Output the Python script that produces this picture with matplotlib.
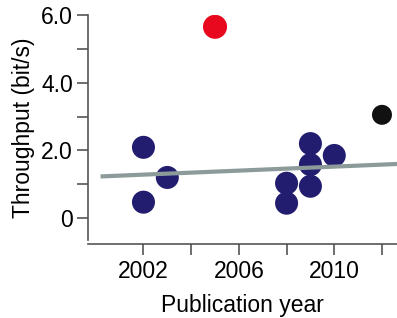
import matplotlib.pyplot as plt
from matplotlib.ticker import FixedLocator

plt.rcParams['font.family'] = ['Liberation Sans', 'DejaVu Sans']

# Blue studies
blue_year = [2002, 2002, 2003, 2008, 2008, 2009, 2009, 2009, 2010]
blue_tp = [2.09, 0.47, 1.2, 1.03, 0.44, 2.2, 1.58, 0.94, 1.85]
# Outliers
red_year = [2005]
red_tp = [5.65]
black_year = [2012]
black_tp = [3.05]
# Trend line endpoints
fit_year = [2000.2, 2012.7]
fit_tp = [1.23, 1.6]

fig = plt.figure(figsize=(3.97, 3.18), dpi=100)
ax = fig.add_axes([0.222, 0.245, 0.778, 0.708])

ax.plot(fit_year, fit_tp, color='#8c9a9a', lw=3, zorder=3, solid_capstyle='butt')
ax.scatter(blue_year, blue_tp, s=275, color='#221d6e', edgecolors='none', zorder=2)
ax.scatter(red_year, red_tp, s=300, color='#e8091f', edgecolors='none', zorder=2)
ax.scatter(black_year, black_tp, s=207, color='#111111', edgecolors='none', zorder=2)

ax.set_xlim(1999.68, 2012.63)
ax.set_ylim(-0.65, 6.0)

for s in ['top', 'right']:
    ax.spines[s].set_visible(False)
ax.spines['bottom'].set_position(('outward', 3))
for s in ['left', 'bottom']:
    ax.spines[s].set_color('#555555')
    ax.spines[s].set_linewidth(1.2)

ax.yaxis.set_major_locator(FixedLocator([0, 2, 4, 6]))
ax.set_yticklabels(['0', '2.0', '4.0', '6.0'])
ax.yaxis.set_minor_locator(FixedLocator([1, 3, 5]))
ax.xaxis.set_major_locator(FixedLocator([2002, 2006, 2010]))
ax.set_xticklabels(['2002', '2006', '2010'])
ax.xaxis.set_minor_locator(FixedLocator([2004, 2008, 2012]))

ax.tick_params(which='both', length=8, width=1.2, color='#555555',
               labelsize=16.5, pad=3)
ax.set_xlabel('Publication year', fontsize=16.5, labelpad=8)
ax.set_ylabel('Throughput (bit/s)', fontsize=16.5, labelpad=4)

fig.savefig('out.png', dpi=100)
